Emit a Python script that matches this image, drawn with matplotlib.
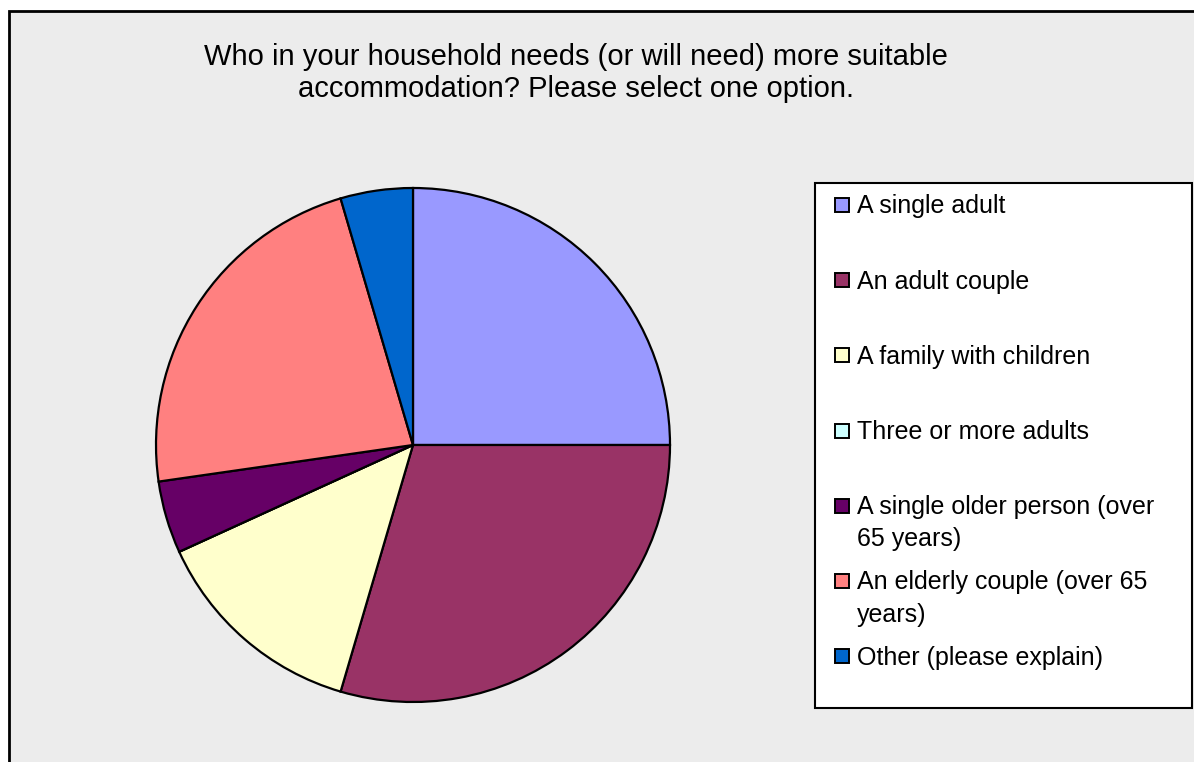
import textwrap
import matplotlib
matplotlib.use("Agg")
import matplotlib.pyplot as plt
from matplotlib.patches import Rectangle

plt.rcParams["font.family"] = ["Liberation Sans", "DejaVu Sans"]

TITLE = "Who in your household needs (or will need) more suitable\naccommodation? Please select one option."
labels = ["A single adult", "An adult couple", "A family with children",
          "Three or more adults", "A single older person (over 65 years)",
          "An elderly couple (over 65 years)", "Other (please explain)"]
counts = [11, 13, 6, 0, 2, 10, 2]
colors = ["#9999FF", "#993366", "#FFFFCC", "#CCFFFF", "#660066", "#FF8080", "#0066CC"]

W, H = 1194, 762
fig = plt.figure(figsize=(W / 100, H / 100), dpi=100, facecolor="white")

# chart area: grey with black frame, cut by the image edge on right/bottom
fig.patches.append(Rectangle((9 / W, -0.01), 1.02 - 9 / W, 1 - 11 / H + 0.01,
                             transform=fig.transFigure, facecolor="#ECECEC",
                             edgecolor="black", lw=2, zorder=-5))

fig.text(576 / W, 1 - 73 / H, TITLE, ha="center", va="center", fontsize=21,
         linespacing=1.17)

# pie
cx, cy, r = 413, 445, 257
ax = fig.add_axes([(cx - r) / W, (H - cy - r) / H, 2 * r / W, 2 * r / H])
ax.pie(counts, colors=colors, startangle=90, counterclock=False,
       wedgeprops=dict(edgecolor="black", linewidth=1.6))
ax.set_xlim(-1, 1)
ax.set_ylim(-1, 1)
ax.set_aspect("equal")
ax.axis("off")

# legend box drawn by hand (Excel-style wrapping)
fig.patches.append(Rectangle((815 / W, 1 - 708 / H), 377 / W, 525 / H,
                             transform=fig.transFigure, facecolor="white",
                             edgecolor="black", lw=1.5, zorder=1))
for i, (lab, col) in enumerate(zip(labels, colors)):
    y = 205 + 75.2 * i
    fig.patches.append(Rectangle((835 / W, 1 - (y + 7) / H), 14 / W, 14 / H,
                                 transform=fig.transFigure, facecolor=col,
                                 edgecolor="black", lw=1.4, zorder=2))
    fig.text(857 / W, 1 - (y - 10.5) / H, textwrap.fill(lab, 27), ha="left", va="top",
             fontsize=18, linespacing=1.43, zorder=3)

fig.savefig("out.png", dpi=100, facecolor="white")
